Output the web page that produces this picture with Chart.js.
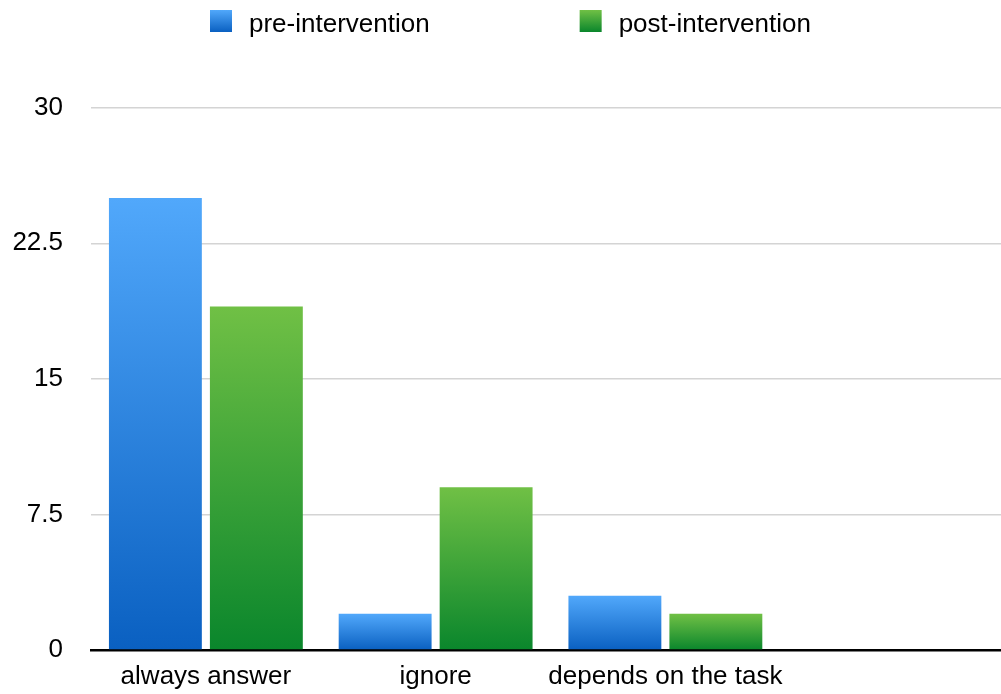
<!DOCTYPE html>
<html>
<head>
<meta charset="utf-8">
<script src="https://cdn.jsdelivr.net/npm/chart.js@4.4.1/dist/chart.umd.min.js"></script>
<style>
  html, body { margin: 0; padding: 0; background: #fff; overflow: hidden; }
  #wrap { width: 1012px; height: 694px; }
</style>
</head>
<body>
<div id="wrap"><canvas id="chart" width="1012" height="694"></canvas></div>
<script>
// Responses before and after the intervention
const categories = ['always answer', 'ignore', 'depends on the task', ''];
const seriesLabels = ['pre-intervention', 'post-intervention'];
const preIntervention = [25, 2, 3, null];
const postIntervention = [19, 9, 2, null];
const yTickValues = [0, 7.5, 15, 22.5, 30];

const FONT = '"Liberation Sans", Arial, Helvetica, sans-serif';

// top / bottom colours of the vertical gradients
const blueStops = ['#51a8fb', '#0a60c1'];
const greenStops = ['#70c045', '#0a862c'];

function verticalGradient(ctx, top, bottom, stops) {
  const g = ctx.createLinearGradient(0, top, 0, bottom);
  g.addColorStop(0, stops[0]);
  g.addColorStop(1, stops[1]);
  return g;
}

// each bar gets its own gradient, from its top edge down to the baseline
function barFill(stops) {
  return function (c) {
    const chart = c.chart;
    const yScale = chart.scales.y;
    if (c.type !== 'data' || !yScale || !c.parsed || c.parsed.y == null) return stops[1];
    const top = yScale.getPixelForValue(c.parsed.y);
    const bottom = yScale.getPixelForValue(0);
    if (!isFinite(top) || !isFinite(bottom) || top === bottom) return stops[1];
    return verticalGradient(chart.ctx, top, bottom, stops);
  };
}

// legend row drawn across the top of the canvas
const topLegend = {
  id: 'topLegend',
  afterDraw(chart) {
    const ctx = chart.ctx;
    const stops = [blueStops, greenStops];
    const box = 22, boxTop = 10, textGap = 17, itemGap = 150, baseline = 32;
    let x = 210;
    ctx.save();
    ctx.font = '26px ' + FONT;
    ctx.textBaseline = 'alphabetic';
    ctx.textAlign = 'left';
    chart.data.datasets.forEach((ds, i) => {
      ctx.fillStyle = verticalGradient(ctx, boxTop, boxTop + box, stops[i]);
      ctx.fillRect(x, boxTop, box, box);
      ctx.fillStyle = '#000';
      ctx.fillText(ds.label, x + box + textGap, baseline);
      x += box + textGap + ctx.measureText(ds.label).width + itemGap;
    });
    ctx.restore();
  }
};

new Chart(document.getElementById('chart'), {
  type: 'bar',
  data: {
    labels: categories,
    datasets: [
      { label: seriesLabels[0], data: preIntervention, backgroundColor: barFill(blueStops), borderWidth: 0 },
      { label: seriesLabels[1], data: postIntervention, backgroundColor: barFill(greenStops), borderWidth: 0 }
    ]
  },
  options: {
    responsive: false,
    animation: false,
    devicePixelRatio: 1,
    categoryPercentage: 0.879,
    barPercentage: 0.92,
    layout: { padding: { top: 107.7, left: 12, right: 2, bottom: 0 } },
    plugins: {
      legend: { display: false },
      tooltip: { enabled: false }
    },
    scales: {
      x: {
        afterFit(scale) { scale.height = 44; },
        grid: { display: false, drawTicks: false },
        border: { display: true, color: '#000', width: 2.5 },
        ticks: {
          color: '#000',
          font: { family: FONT, size: 26 },
          padding: 11.5,
          maxRotation: 0,
          autoSkip: false
        }
      },
      y: {
        min: 0,
        max: 30,
        afterBuildTicks(scale) {
          scale.ticks = yTickValues.map(v => ({ value: v }));
        },
        afterFit(scale) { scale.width = 79; },
        grid: { color: '#d4d4d4', lineWidth: 1.5, drawTicks: false },
        border: { display: false },
        ticks: {
          color: '#000',
          font: { family: FONT, size: 26 },
          padding: 28,
          callback: v => String(v)
        }
      }
    }
  },
  plugins: [topLegend]
});
</script>
</body>
</html>
